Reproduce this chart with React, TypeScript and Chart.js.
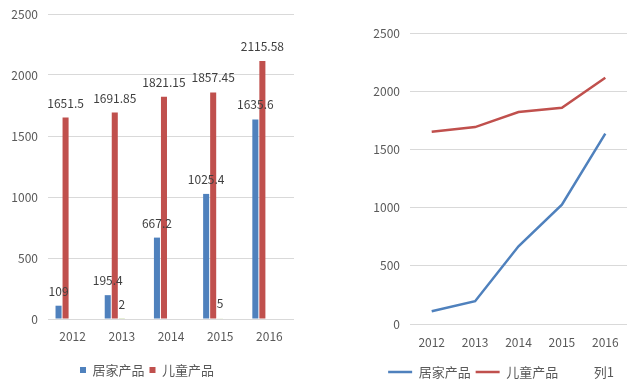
import React, { useEffect, useRef } from "react";
import { Chart, registerables } from "chart.js";

Chart.register(...registerables);

const years = ["2012", "2013", "2014", "2015", "2016"];
const homeProducts = [109, 195.4, 667.2, 1025.4, 1635.6];
const kidsProducts = [1651.5, 1691.85, 1821.15, 1857.45, 2115.58];
const col1 = [null, 2, null, 5, null];
const emptySeries = [null, null, null, null, null];
const yTicks = { min: 0, max: 2500, step: 500 };

const BLUE = "#4F81BD";
const RED = "#C0504D";
const GREEN = "#9BBB59";
const FONT = "'Noto Sans CJK SC', 'Open Sans', sans-serif";
const TICK_COLOR = "#595959";
const GRID_COLOR = "#D9D9D9";

const barLabelPlugin = {
  id: "barLabels",
  afterDatasetsDraw(chart: any) {
    const ctx = chart.ctx;
    ctx.save();
    ctx.font = `12px ${FONT}`;
    ctx.fillStyle = "#404040";
    ctx.textAlign = "center";
    ctx.textBaseline = "alphabetic";
    for (let d = 0; d < 3; d++) {
      const meta = chart.getDatasetMeta(d);
      const data = chart.data.datasets[d].data;
      meta.data.forEach((el: any, i: number) => {
        const v = data[i];
        if (v === null || v === undefined) return;
        ctx.fillText(String(v), el.x, el.y - 10);
      });
    }
    ctx.restore();
  },
};

const plainTick = (v: any) => String(v);

function BarChart() {
  const ref = useRef<HTMLCanvasElement>(null);
  useEffect(() => {
    const chart = new Chart(ref.current as HTMLCanvasElement, {
      type: "bar",
      data: {
        labels: years,
        datasets: [
          { label: "居家产品", data: homeProducts, backgroundColor: BLUE },
          { label: "儿童产品", data: kidsProducts, backgroundColor: RED },
          { label: "列1", data: col1 as any, backgroundColor: GREEN },
          { label: "列2", data: emptySeries as any, backgroundColor: GREEN },
          { label: "列3", data: emptySeries as any, backgroundColor: GREEN },
        ],
      },
      options: {
        responsive: false,
        animation: false,
        datasets: { bar: { categoryPercentage: 0.714, barPercentage: 0.86 } } as any,
        layout: { padding: { left: 0, right: 6, top: 14, bottom: 4.5 } },
        plugins: {
          tooltip: { enabled: false },
          legend: {
            position: "bottom",
            labels: {
              boxWidth: 6,
              boxHeight: 6,
              padding: 5,
              color: TICK_COLOR,
              font: { size: 13, family: FONT },
              filter: (item: any) => item.datasetIndex < 2,
            },
          },
        },
        scales: {
          x: {
            grid: { display: false, drawTicks: false },
            border: { display: false },
            ticks: { color: TICK_COLOR, font: { size: 12, family: FONT }, padding: 10 },
            afterFit: (s: any) => {
              s.height = 39.5;
            },
          },
          y: {
            min: yTicks.min,
            max: yTicks.max,
            grid: { color: GRID_COLOR, drawTicks: false },
            border: { display: false },
            ticks: {
              stepSize: yTicks.step,
              color: TICK_COLOR,
              font: { size: 12, family: FONT },
              padding: 10,
              callback: plainTick,
            },
            afterFit: (s: any) => {
              s.width = 48;
              s.paddingTop = 0;
              s.paddingBottom = 0;
            },
          },
        },
      },
      plugins: [barLabelPlugin],
    });
    return () => chart.destroy();
  }, []);
  return <canvas ref={ref} width={300} height={391} style={{ display: "block" }} />;
}

function LineChart() {
  const ref = useRef<HTMLCanvasElement>(null);
  useEffect(() => {
    const colors = [BLUE, RED, "rgba(0,0,0,0)"];
    const chart = new Chart(ref.current as HTMLCanvasElement, {
      type: "line",
      data: {
        labels: years,
        datasets: [
          { label: "居家产品", data: homeProducts, borderColor: BLUE, borderWidth: 2.5, pointRadius: 0, yAxisID: "y" },
          { label: "儿童产品", data: kidsProducts, borderColor: RED, borderWidth: 2.5, pointRadius: 0, yAxisID: "y" },
          { label: "列1", data: emptySeries as any, borderColor: "rgba(0,0,0,0)", borderWidth: 2.5, pointRadius: 0, yAxisID: "y" },
        ],
      },
      options: {
        responsive: false,
        animation: false,
        layout: { padding: { left: 43, right: 1, top: 33, bottom: 2.5 } },
        plugins: {
          tooltip: { enabled: false },
          legend: {
            position: "bottom",
            labels: {
              boxWidth: 24,
              boxHeight: 2.5,
              padding: 5,
              color: TICK_COLOR,
              font: { size: 13, family: FONT },
              generateLabels: (c: any) =>
                c.data.datasets.map((ds: any, i: number) => ({
                  text: ds.label,
                  fillStyle: colors[i],
                  strokeStyle: colors[i],
                  lineWidth: 0,
                  fontColor: TICK_COLOR,
                  hidden: false,
                  datasetIndex: i,
                })),
            },
          },
        },
        scales: {
          x: {
            offset: true,
            grid: { display: false, drawTicks: false },
            border: { display: false },
            ticks: { color: TICK_COLOR, font: { size: 12, family: FONT }, padding: 11 },
            afterFit: (s: any) => {
              s.height = 36.5;
            },
          },
          y: {
            min: yTicks.min,
            max: yTicks.max,
            grid: { color: GRID_COLOR, drawTicks: false },
            border: { display: false },
            ticks: {
              stepSize: yTicks.step,
              color: TICK_COLOR,
              font: { size: 12, family: FONT },
              padding: 10,
              callback: plainTick,
            },
            afterFit: (s: any) => {
              s.width = 47;
              s.paddingTop = 0;
              s.paddingBottom = 0;
            },
          },
          yRight: {
            position: "right",
            display: true,
            grid: { display: false, drawTicks: false },
            border: { display: false },
            ticks: { display: false },
            afterFit: (s: any) => {
              s.width = 12;
            },
          },
        },
      },
    });
    return () => chart.destroy();
  }, []);
  return <canvas ref={ref} width={320} height={391} style={{ display: "block" }} />;
}

export default function App() {
  return (
    <div style={{ position: "absolute", left: 0, top: 0, width: 640, height: 391, background: "#fff" }}>
      <div style={{ position: "absolute", left: 0, top: 0 }}>
        <BarChart />
      </div>
      <div style={{ position: "absolute", left: 320, top: 0 }}>
        <LineChart />
      </div>
    </div>
  );
}
